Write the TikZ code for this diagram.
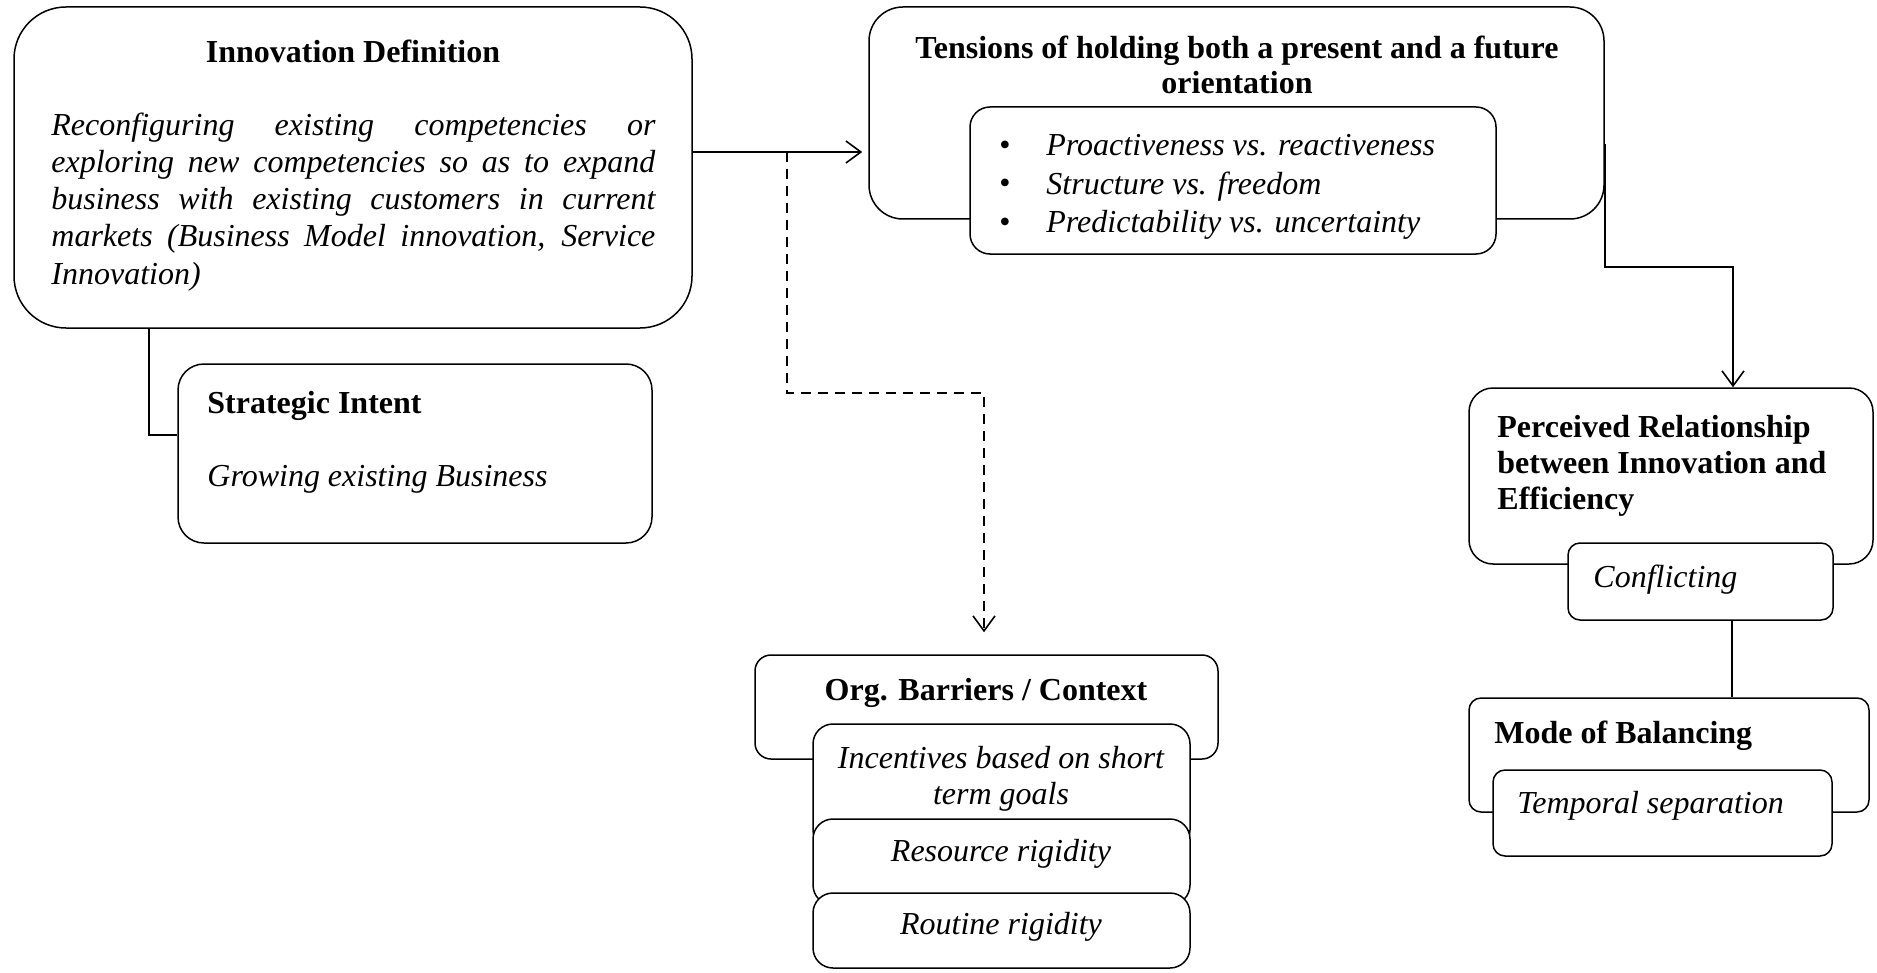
\documentclass[tikz,border=0pt]{standalone}
\usepackage{fontspec}
\setmainfont{Liberation Serif}
\usetikzlibrary{arrows.meta,fit}

\tikzset{
  box/.style={draw, line width=0.75pt, fill=white, inner sep=0pt},
  link/.style={line width=0.8pt},
  arr/.style={line width=0.8pt, -{Straight Barb[length=7.5pt,width=11pt,line width=0.8pt]}},
  dashline/.style={dash pattern=on 5pt off 3.5pt},
  txt/.style={inner sep=0pt, anchor=base west, font=\fontsize{16}{18.5}\selectfont},
}

\begin{document}
\begin{tikzpicture}[x=0.5pt,y=-0.5pt]
          \useasboundingbox (0,0) rectangle (1877,973);

          % boxes
          \node[box, rounded corners=26pt, fit={(14,7) (692,328)}] (idbox) {};
          \node[box, rounded corners=13pt, fit={(178,364) (652,543)}] (stint) {};
          \node[box, rounded corners=17pt, fit={(869,7) (1604,219)}] (tens) {};
          \node[box, rounded corners=10pt, fit={(970,107) (1496,254)}] (bull) {};
          \node[box, rounded corners=12pt, fit={(1469,388) (1873,564)}] (perc) {};
          \node[box, rounded corners=6pt, fit={(1568,543) (1833,620)}] (confl) {};
          \node[box, rounded corners=6pt, fit={(1469,698) (1869,812)}] (mode) {};
          \node[box, rounded corners=6pt, fit={(1493,770) (1832,856)}] (temp) {};
          \node[box, rounded corners=8pt, fit={(755,655) (1218,759)}] (org) {};
          \node[box, rounded corners=10pt, fit={(813,724) (1190,850)}] (inc) {};
          \node[box, rounded corners=10pt, fit={(813,819) (1190,905)}] (res) {};
          \node[box, rounded corners=10pt, fit={(813,893) (1190,968)}] (rout) {};

          % texts (multi-line nodes sit on their last baseline)
          \node[txt, anchor=base, font=\fontsize{16}{18.5}\selectfont\bfseries] (idtitle) at (353,63) {Innovation Definition};
          \node[txt, text width=302pt, align=justify, font=\fontsize{16}{18.5}\selectfont\itshape] (iddef) at (51,136)
            {Reconfiguring existing competencies or\linebreak exploring new competencies so as to expand\linebreak business with existing customers in current\linebreak markets (Business Model innovation, Service\linebreak Innovation)};
          \node[txt, font=\fontsize{16}{18.5}\selectfont\bfseries] (sititle) at (207,413) {Strategic Intent};
          \node[txt, font=\fontsize{16}{18.5}\selectfont\itshape] (sitext) at (207,486) {Growing existing Business};

          \node[txt, anchor=base, align=center, font=\fontsize{16}{17.5}\selectfont\bfseries] (tenstitle) at (1237,94)
            {Tensions of holding both a present and a future\\orientation};
          \node[txt, anchor=base] (b1) at (1005,156) {\textbullet};
          \node[txt, anchor=base] (b2) at (1005,194) {\textbullet};
          \node[txt, anchor=base] (b3) at (1005,233) {\textbullet};
          \node[txt, align=left, font=\fontsize{16}{19.25}\selectfont\itshape] (tenstext) at (1046,233)
            {Proactiveness vs. reactiveness\\Structure vs. freedom\\Predictability vs. uncertainty};

          \node[txt, align=left, font=\fontsize{16}{18}\selectfont\bfseries] (perctitle) at (1497,509)
            {Perceived Relationship\\between Innovation and\\Efficiency};
          \node[txt, font=\fontsize{16}{18.5}\selectfont\itshape] (confltext) at (1593,587) {Conflicting};
          \node[txt, font=\fontsize{16}{18.5}\selectfont\bfseries] (modetitle) at (1494,743) {Mode of Balancing};
          \node[txt, font=\fontsize{16}{18.5}\selectfont\itshape] (temptext) at (1517,813) {Temporal separation};

          \node[txt, anchor=base, font=\fontsize{16}{18.5}\selectfont\bfseries] (orgtitle) at (986,700) {Org. Barriers / Context};
          \node[txt, anchor=base, align=center, font=\fontsize{16}{18}\selectfont\itshape] (inctext) at (1001,804)
            {Incentives based on short\\term goals};
          \node[txt, anchor=base, font=\fontsize{16}{18.5}\selectfont\itshape] (restext) at (1001,861) {Resource rigidity};
          \node[txt, anchor=base, font=\fontsize{16}{18.5}\selectfont\itshape] (routtext) at (1001,934) {Routine rigidity};

          % connectors
          \coordinate (split) at (787,152);
          \draw[arr, shorten >=3pt] (idbox.east |- split) -- (tens.west |- split);
          \draw[arr, dashline, shorten >=11pt] (split) |- (984,393) -- (984,0 |- org.north);
          \draw[link] (149,0 |- idbox.south) |- (stint.west |- 0,435);
          \draw[arr] (tens.east |- 0,144) |- (1733,267) -- (1733,0 |- perc.north);
          \draw[link] (1732,0 |- confl.south) -- (1732,0 |- mode.north);
\end{tikzpicture}
\end{document}
